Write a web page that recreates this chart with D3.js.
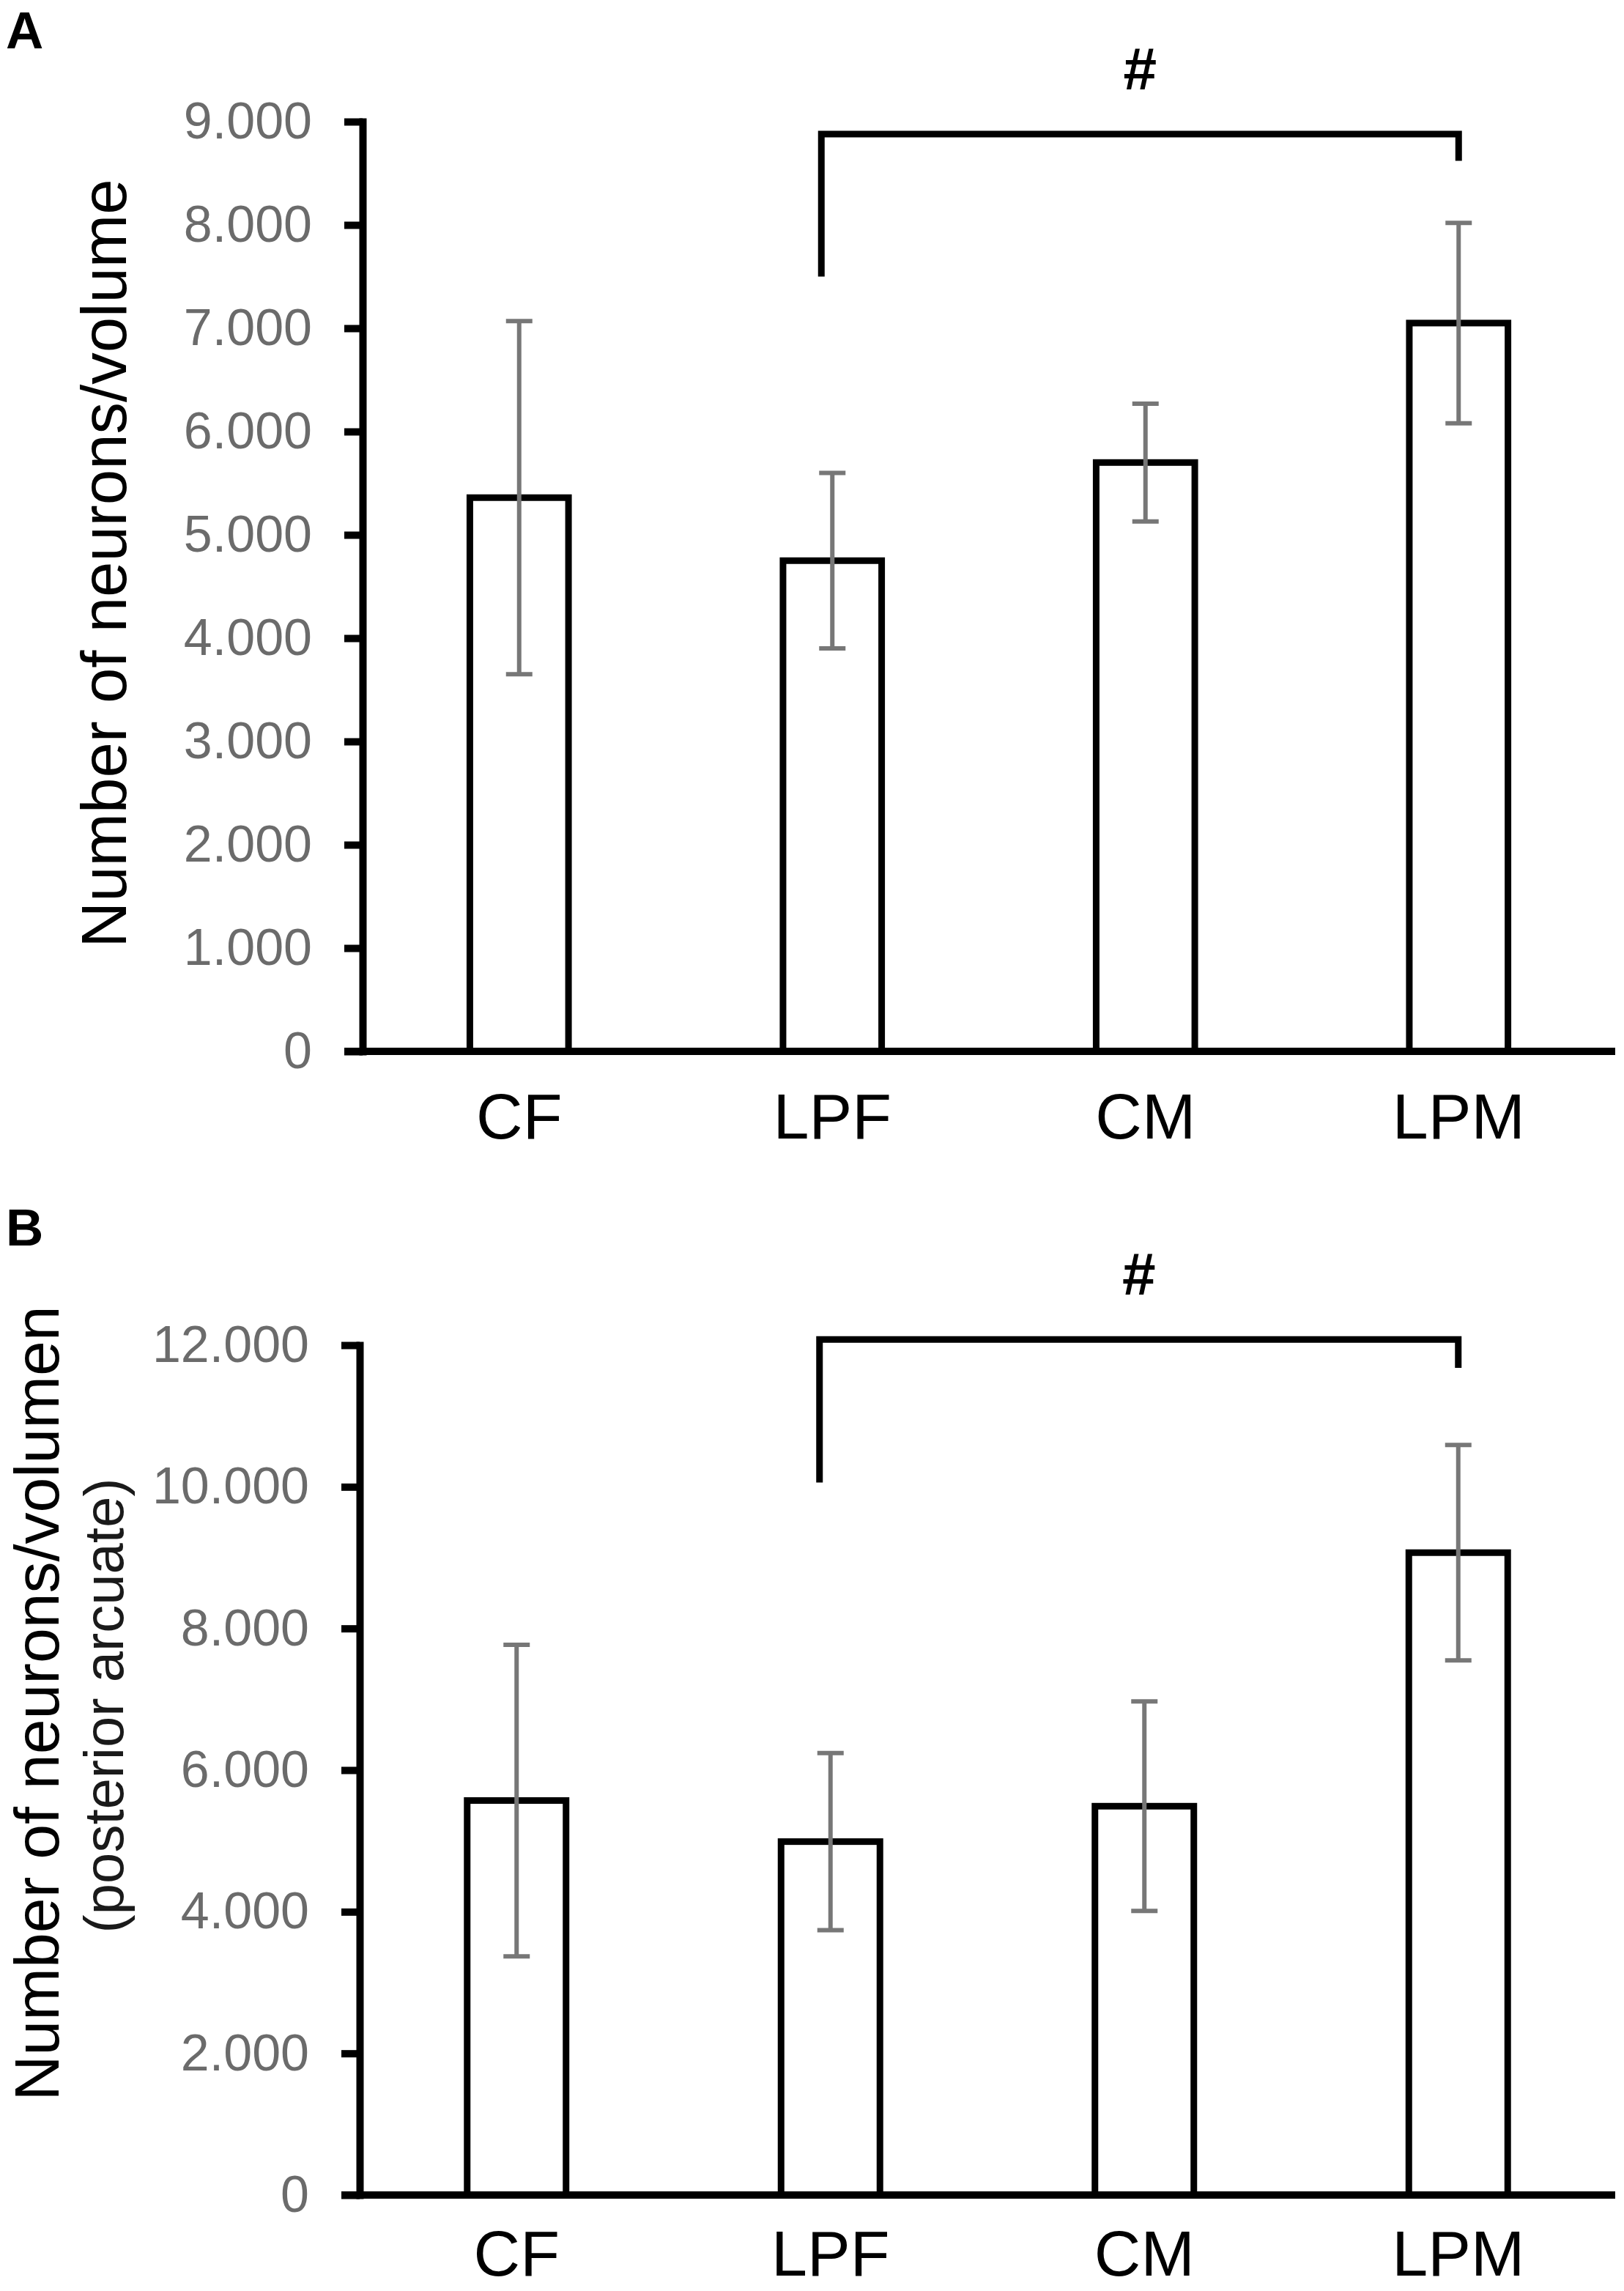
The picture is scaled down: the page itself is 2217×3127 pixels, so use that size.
<!DOCTYPE html>
<html>
<head>
<meta charset="utf-8">
<script src="https://cdn.jsdelivr.net/npm/d3@7"></script>
<style>
  body { margin: 0; background: #fff; }
  svg { display: block; font-family: "Liberation Sans", Arial, sans-serif; }
</style>
</head>
<body>
<svg id="chart"></svg>
<script>
// data
const groups = ["CF", "LPF", "CM", "LPM"];

const meansA = [5360, 4750, 5700, 7050];
const errA = [1710, 850, 570, 970];
const ticksA = [0, 1000, 2000, 3000, 4000, 5000, 6000, 7000, 8000, 9000];

const meansB = [5570, 4990, 5490, 9070];
const errB = [2200, 1250, 1480, 1520];
const ticksB = [0, 2000, 4000, 6000, 8000, 10000, 12000];

// significance bracket LPF vs LPM (value units)
const bracketA = { from: "LPF", to: "LPM", top: 8880, footL: 7500, footR: 8620, mark: "#" };
const bracketB = { from: "LPF", to: "LPM", top: 12080, footL: 10060, footR: 11680, mark: "#" };

// constants
const width = 2217;
const height = 3127;
const svg = d3.select("svg#chart").attr("width", width).attr("height", height);
svg.append("rect").attr("width", width).attr("height", height).attr("fill", "#fff");

const fmt = d3.formatLocale({ decimal: ",", thousands: ".", grouping: [3], currency: ["", ""] }).format(",d");

function drawPanel(p) {
    const g = svg.append("g");

    const y = d3.scaleLinear().domain([0, p.ticks[p.ticks.length - 1]]).range([p.y0, p.y1]);
    const x = d3.scaleBand().domain(groups).range([p.x0, 2205])
        .paddingInner(0.685).paddingOuter(0.3425);

    // y axis
    const yAxis = g.append("g")
        .attr("transform", "translate(" + p.x0 + ",0)")
        .call(d3.axisLeft(y).tickValues(p.ticks).tickSize(25).tickSizeOuter(0).tickPadding(44).tickFormat(fmt));
    yAxis.select(".domain").attr("stroke", "#000").attr("stroke-width", 10).attr("stroke-linecap", "square");
    yAxis.selectAll(".tick line").attr("stroke", "#000").attr("stroke-width", 10);
    yAxis.selectAll(".tick text").attr("fill", "#6b6b6b").attr("font-size", 70);

    // bars
    g.selectAll("rect.bar").data(p.means).enter().append("rect")
        .attr("class", "bar")
        .attr("x", (d, i) => x(groups[i]))
        .attr("width", x.bandwidth())
        .attr("y", d => y(d))
        .attr("height", d => y(0) - y(d))
        .attr("fill", "#fff")
        .attr("stroke", "#000")
        .attr("stroke-width", 9);

    // x axis
    const xAxis = g.append("g")
        .attr("transform", "translate(0," + p.y0 + ")")
        .call(d3.axisBottom(x).tickSize(0).tickPadding(p.labelPad));
    xAxis.select(".domain").remove();
    xAxis.selectAll(".tick text").attr("fill", "#000").attr("font-size", 88);
    g.append("line")
        .attr("x1", p.x0 - 25).attr("x2", 2205)
        .attr("y1", p.y0).attr("y2", p.y0)
        .attr("stroke", "#000").attr("stroke-width", 10);

    // error bars
    const eb = g.selectAll("g.err").data(p.means).enter().append("g").attr("class", "err")
        .attr("stroke", "#777").attr("stroke-width", 6);
    const cx = (i) => x(groups[i]) + x.bandwidth() / 2;
    eb.append("line")
        .attr("x1", (d, i) => cx(i)).attr("x2", (d, i) => cx(i))
        .attr("y1", (d, i) => y(d + p.err[i])).attr("y2", (d, i) => y(d - p.err[i]));
    eb.append("line")
        .attr("x1", (d, i) => cx(i) - 18).attr("x2", (d, i) => cx(i) + 18)
        .attr("y1", (d, i) => y(d + p.err[i])).attr("y2", (d, i) => y(d + p.err[i]));
    eb.append("line")
        .attr("x1", (d, i) => cx(i) - 18).attr("x2", (d, i) => cx(i) + 18)
        .attr("y1", (d, i) => y(d - p.err[i])).attr("y2", (d, i) => y(d - p.err[i]));

    // bracket
    const b = p.bracket;
    const bl = x(b.from) + x.bandwidth() / 2 - 15;
    const br = x(b.to) + x.bandwidth() / 2;
    g.append("path")
        .attr("d", d3.line()([[bl, y(b.footL)], [bl, y(b.top)], [br, y(b.top)], [br, y(b.footR)]]))
        .attr("fill", "none").attr("stroke", "#000").attr("stroke-width", 9);
    g.append("text")
        .attr("x", (bl + br) / 2).attr("y", y(b.top) - 61)
        .attr("text-anchor", "middle").attr("font-size", 82).attr("font-weight", "bold")
        .text(b.mark);

    // panel letter
    g.append("text").attr("x", 8).attr("y", p.letterY)
        .attr("font-size", 71).attr("font-weight", "bold").text(p.letter);

    // y title
    p.titles.forEach(t => {
        g.append("text")
            .attr("transform", "translate(" + t.x + "," + t.y + ") rotate(-90)")
            .attr("text-anchor", "middle").attr("font-size", t.size).attr("fill", t.color || "#000")
            .text(t.text);
    });
}

drawPanel({
    letter: "A", letterY: 66,
    means: meansA, err: errA, ticks: ticksA, bracket: bracketA,
    x0: 495, y0: 1435, y1: 166, labelPad: 57,
    titles: [{ text: "Number of neurons/volume", x: 172, y: 769, size: 87 }]
});

drawPanel({
    letter: "B", letterY: 1700,
    means: meansB, err: errB, ticks: ticksB, bracket: bracketB,
    x0: 491, y0: 2996, y1: 1836, labelPad: 48,
    titles: [
        { text: "Number of neurons/volumen", x: 80, y: 2325, size: 86 },
        { text: "(posterior arcuate)", x: 168, y: 2328, size: 76, color: "#1a1a1a" }
    ]
});
</script>
</body>
</html>
